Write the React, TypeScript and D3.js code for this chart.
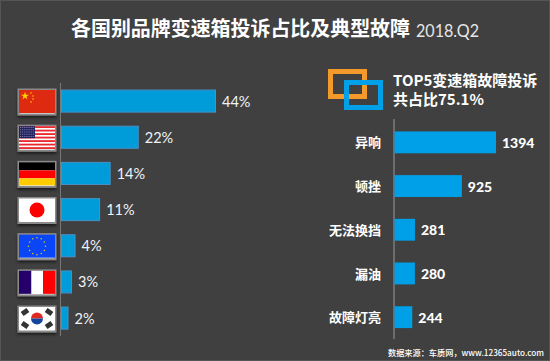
import React from "react";
import * as d3 from "d3";

const countries = ["China", "USA", "Germany", "Japan", "EU", "France", "Korea"];
const shares = [44, 22, 14, 11, 4, 3, 2];
const faults = ["异响", "顿挫", "无法换挡", "漏油", "故障灯亮"];
const faultCounts = [1394, 925, 281, 280, 244];

const W = 550, H = 361;
const CJK = '"Noto Sans CJK SC", sans-serif';
const LAT = 'Lato, "Noto Sans", sans-serif';

const xL = d3.scaleLinear().domain([0, 44]).range([61, 215.5]);
const yL = d3.scaleBand().domain(countries).range([83, 336.2]).paddingInner(0.39).paddingOuter(0.195);
const xR = d3.scaleLinear().domain([0, 1394]).range([394.5, 496]);
const yR = d3.scaleBand().domain(faults).range([120.5, 339]).paddingInner(0.5).paddingOuter(0.25);

function Flag({ name }: { name: string }) {
  const w = 36, h = 23;
  if (name === "China") return <g>
    <rect width={w} height={h} fill="#de2a10" />
    <path d={d3.symbol(d3.symbolStar, 20)() ?? ""} transform="translate(6,6)" fill="#ffd200" />
    {[[12, 3], [14, 6], [14, 9], [12, 12]].map(([x, y], i) => <circle key={i} cx={x} cy={y} r={0.8} fill="#ffc800" />)}
  </g>;
  if (name === "USA") return <g>
    <rect width={w} height={h} fill="#fff" />
    {d3.range(0, 7).map(i => <rect key={i} y={i * 3.5} width={w} height={1.8} fill="#e8262c" />)}
    <rect width={16} height={12} fill="#20205e" />
    {d3.range(0, 5).flatMap(r => d3.range(0, 8).map(c => <rect key={`${r}-${c}`} x={1 + c * 1.9} y={1 + r * 2.2} width={0.8} height={0.8} fill="#b8b8d8" />))}
  </g>;
  if (name === "Germany") return <g>
    <rect width={w} height={8} fill="#000" />
    <rect y={8} width={w} height={8} fill="#f00" />
    <rect y={16} width={w} height={7} fill="#fc0" />
  </g>;
  if (name === "Japan") return <g>
    <rect width={w} height={h} fill="#fff" />
    <circle cx={18} cy={11.5} r={7.5} fill="#f00" />
  </g>;
  if (name === "EU") return <g>
    <rect width={w} height={h} fill="#0a46f5" />
    {d3.range(0, 12).map(i => <circle key={i} cx={18 + 8.5 * Math.cos(i * Math.PI / 6)} cy={11.5 + 8.5 * Math.sin(i * Math.PI / 6)} r={0.8} fill="#e0c020" />)}
  </g>;
  if (name === "France") return <g>
    <rect width={12.5} height={h} fill="#26006a" />
    <rect x={12.5} width={11.5} height={h} fill="#fff" />
    <rect x={24} width={12} height={h} fill="#f00" />
  </g>;
  return <g>
    <rect width={w} height={h} fill="#fff" />
    <path d="M12 11.5 A6 6 0 0 1 24 11.5 Z" fill="#de2a22" />
    <path d="M12 11.5 A6 6 0 0 0 24 11.5 Z" fill="#14459c" />
    {[[6, 5], [30, 5], [6, 18], [30, 18]].map(([x, y], i) =>
      <rect key={i} x={x - 3.5} y={y - 2.5} width={7} height={5} fill="#333" transform={`rotate(${i === 0 || i === 3 ? -35 : 35} ${x} ${y})`} />)}
  </g>;
}

export default function App() {
  return (
    <svg width={W} height={H} viewBox={`0 0 ${W} ${H}`} style={{ position: "absolute", left: 0, top: 0, display: "block" }}>
      <defs>
        <filter id="fs" x="-20%" y="-20%" width="140%" height="150%">
          <feDropShadow dx={0} dy={2} stdDeviation={1.5} floodColor="#000" floodOpacity={0.6} />
        </filter>
      </defs>
      <rect x={0.5} y={0.5} width={W - 1} height={H - 1} fill="#404040" stroke="#555" />

      <text x={71} y={36} fontFamily={CJK} fontSize={20} fontWeight={700} fill="#fff" textLength={339} lengthAdjust="spacingAndGlyphs">各国别品牌变速箱投诉占比及典型故障</text>
      <text x={416} y={37} fontFamily={LAT} fontSize={17.5} fill="#e6e6e6" textLength={63} lengthAdjust="spacingAndGlyphs">2018.Q2</text>

      <line x1={60.5} x2={60.5} y1={83} y2={336} stroke="#777" />
      {countries.map((c, i) => {
        const y = yL(c)!;
        const fy = 90 + i * 36.17;
        return <g key={c}>
          <rect x={18.5} y={fy - 0.5} width={37} height={25} fill="#fff" stroke="#8a8a8a" strokeWidth={2} filter="url(#fs)" />
          <g transform={`translate(19,${fy})`}><Flag name={c} /></g>
          <rect x={xL(0) + 0.5} y={y} width={xL(shares[i]) - xL(0) - 0.5} height={yL.bandwidth()} fill="#009cda" stroke="#4a90c4" />
          <text x={xL(shares[i]) + 6.5} y={y + 16.5} fontFamily={LAT} fontSize={14.5} fill="#eef4f8">{shares[i]}%</text>
        </g>;
      })}

      <rect x={330.5} y={71.5} width={34} height={25} fill="none" stroke="#f39a2b" strokeWidth={5} />
      <rect x={346.5} y={82.5} width={34} height={25} fill="none" stroke="#00a0e9" strokeWidth={5} />
      <text fontFamily={CJK} fontSize={15} fontWeight={700} fill="#fff">
        <tspan x={393} y={86}>TOP5变速箱故障投诉</tspan>
        <tspan x={393} y={104.5}>共占比75.1%</tspan>
      </text>

      <line x1={394} x2={394} y1={119} y2={339} stroke="#999" />
      {faults.map((f, i) => {
        const y = yR(f)!;
        return <g key={f}>
          <rect x={xR(0)} y={y} width={xR(faultCounts[i]) - xR(0)} height={yR.bandwidth()} fill="#00a0e9" />
          <text x={381} y={y + 16} textAnchor="end" fontFamily={CJK} fontSize={13} fontWeight={700} fill="#fff">{f}</text>
          <text x={xR(faultCounts[i]) + 6} y={y + 16.5} fontFamily={LAT} fontSize={14} fontWeight={900} fill="#fff">{faultCounts[i]}</text>
        </g>;
      })}

      <text x={544} y={356} textAnchor="end" fontFamily={CJK} fontSize={8.5} fontWeight={500} fill="#fff" textLength={156} lengthAdjust="spacingAndGlyphs">数据来源：车质网，www.12365auto.com</text>
    </svg>
  );
}
